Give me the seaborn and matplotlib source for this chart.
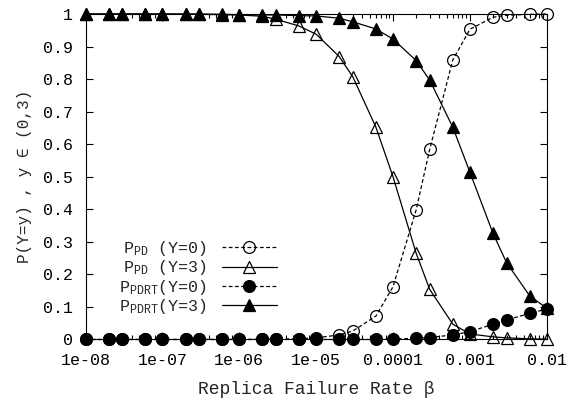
import numpy as np
import pandas as pd
import matplotlib
matplotlib.use("Agg")
import matplotlib.pyplot as plt
import seaborn as sns

# ---- data ----
beta = [1e-8, 2e-8, 3e-8, 6e-8,
        1e-7, 2e-7, 3e-7, 6e-7,
        1e-6, 2e-6, 3e-6, 6e-6,
        1e-5, 2e-5, 3e-5, 6e-5,
        1e-4, 2e-4, 3e-4, 6e-4,
        1e-3, 2e-3, 3e-3, 6e-3,
        1e-2]
pd_y0 = [0, 0, 0, 0, 0, 0, 0, 0, 0, 0.0005, 0.001, 0.002, 0.005,
         0.014, 0.026, 0.072, 0.162, 0.398, 0.584, 0.859, 0.953,
         0.990, 0.996, 0.999, 1.0]
pd_y3 = [1.0, 1.0, 1.0, 1.0, 1.0, 0.999, 0.999, 0.998, 0.997, 0.993,
         0.984, 0.963, 0.938, 0.869, 0.807, 0.652, 0.500, 0.265, 0.154,
         0.047, 0.017, 0.008, 0.005, 0.002, 0.001]
pdrt_y0 = [0, 0, 0, 0, 0, 0, 0, 0, 0, 0, 0, 0, 0, 0, 0, 0,
           0.001, 0.004, 0.006, 0.014, 0.024, 0.047, 0.060, 0.080, 0.094]
pdrt_y3 = [1.0, 1.0, 1.0, 1.0, 1.0, 1.0, 1.0, 0.999, 0.998, 0.997,
           0.997, 0.995, 0.994, 0.987, 0.976, 0.954, 0.923, 0.857, 0.797,
           0.652, 0.514, 0.326, 0.236, 0.134, 0.096]

labels = [r"$\mathregular{P_{PD}}$ (Y=0)", r"$\mathregular{P_{PD}}$ (Y=3)",
          r"$\mathregular{P_{PDRT}}$(Y=0)", r"$\mathregular{P_{PDRT}}$(Y=3)"]
xtick_vals = [1e-8, 1e-7, 1e-6, 1e-5, 1e-4, 1e-3, 1e-2]
xtick_labels = ["1e-08", "1e-07", "1e-06", "1e-05", "0.0001", "0.001", "0.01"]
ytick_vals = [0, 0.1, 0.2, 0.3, 0.4, 0.5, 0.6, 0.7, 0.8, 0.9, 1.0]
ytick_labels = ["0", "0.1", "0.2", "0.3", "0.4", "0.5", "0.6", "0.7", "0.8", "0.9", "1"]

sns.set_theme(style="ticks")
plt.rcParams["font.family"] = ["Liberation Mono", "DejaVu Sans Mono"]
plt.rcParams["mathtext.fontset"] = "custom"
plt.rcParams["mathtext.rm"] = "Liberation Mono"

fig = plt.figure(figsize=(5.79, 4.0), dpi=100)
ax = fig.add_axes([0.1477, 0.1513, 0.7966, 0.8137])

series = [
    (pd_y0, dict(marker="o", markerfacecolor="none", linestyle=(0, (3, 2)))),
    (pd_y3, dict(marker="^", markerfacecolor="none", linestyle="-")),
    (pdrt_y0, dict(marker="o", markerfacecolor="black", linestyle=(0, (3, 2)))),
    (pdrt_y3, dict(marker="^", markerfacecolor="black", linestyle="-")),
]
for (vals, st), lab in zip(series, labels):
    df = pd.DataFrame({"beta": beta, "p": vals})
    sns.lineplot(data=df, x="beta", y="p", ax=ax, color="black", linewidth=0.9,
                 markersize=8.5, markeredgecolor="black", markeredgewidth=0.9,
                 label=lab, clip_on=False, zorder=3, **st)

ax.set_xscale("log")
ax.set_xlim(1e-8, 1e-2)
ax.set_ylim(0, 1)
ax.set_xticks(xtick_vals)
ax.set_xticklabels(xtick_labels)
ax.set_yticks(ytick_vals)
ax.set_yticklabels(ytick_labels)
ax.xaxis.set_minor_locator(matplotlib.ticker.LogLocator(base=10, subs=np.arange(2, 10)))
ax.xaxis.set_minor_formatter(matplotlib.ticker.NullFormatter())

ax.tick_params(which="both", direction="in", top=True, right=True, colors="black",
               labelsize=12, width=0.8)
ax.tick_params(which="major", length=5)
ax.tick_params(which="minor", length=3)
ax.tick_params(axis="y", pad=9)
ax.tick_params(axis="x", pad=10)
for s in ax.spines.values():
    s.set_visible(True)
    s.set_color("black")
    s.set_linewidth(0.8)

ax.set_xlabel("Replica Failure Rate β", fontsize=13, labelpad=9)
ax.set_ylabel("P(Y=y) , y ∈ (0,3)", fontsize=11.5, labelpad=8)

leg = ax.legend(loc="center right", bbox_to_anchor=(0.415, 0.19), frameon=False,
                markerfirst=False, handlelength=3.3, handletextpad=0.9,
                labelspacing=0.02, borderpad=0, borderaxespad=0, fontsize=12)

fig.savefig("out.png", dpi=100)
